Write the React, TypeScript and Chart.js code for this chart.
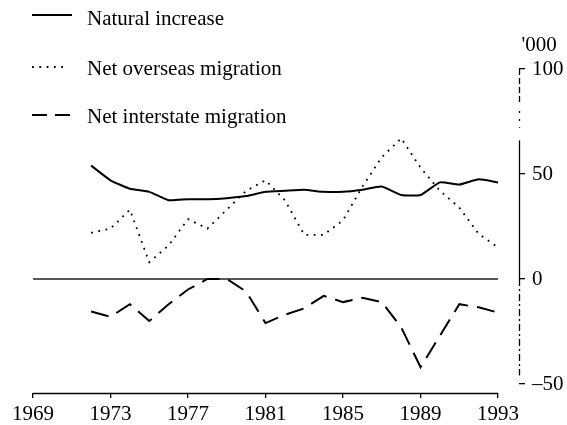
import React, { useEffect, useRef } from "react";
import { Chart, registerables } from "chart.js";

Chart.register(...registerables);

// ---- data ----
const years = [
  1972, 1973, 1974, 1975, 1976, 1977, 1978, 1979, 1980, 1981, 1982,
  1983, 1984, 1985, 1986, 1987, 1988, 1989, 1990, 1991, 1992, 1993,
];
const naturalIncrease = [
  54, 47, 43, 41.5, 37.5, 38, 38, 38.5, 39.5, 41.5, 42,
  42.5, 41.5, 41.5, 42.5, 44, 40, 40, 46, 45, 47.5, 46,
];
const netOverseasMigration = [
  22, 24, 33, 8, 16, 28.5, 24, 33, 42, 47, 37.5,
  21, 21, 28, 44, 58, 67, 53, 42, 34, 21.5, 15,
];
const netInterstateMigration = [
  -15.5, -18, -12, -20, -12, -5, 0, 0, -6, -21, -17,
  -14, -8, -11, -9, -11, -23, -42, -27, -12, -13.5, -16,
];
const seriesLabels = ["Natural increase", "Net overseas migration", "Net interstate migration"];
const xTickYears = [1969, 1973, 1977, 1981, 1985, 1989, 1993];
const yTickValues = [-50, 0, 50, 100];
const unitLabel = "'000";

const FONT = "'Liberation Serif', 'Times New Roman', serif";
const FONT_SIZE = 21;

const decorPlugin = {
  id: "decor",
  beforeDatasetsDraw(chart: any) {
    const { ctx, scales } = chart;
    const x = scales.x;
    const y = scales.y;
    // zero line
    ctx.save();
    ctx.strokeStyle = "#222";
    ctx.lineWidth = 1.6;
    ctx.beginPath();
    ctx.moveTo(x.getPixelForValue(xTickYears[0]), y.getPixelForValue(0));
    ctx.lineTo(x.getPixelForValue(xTickYears[xTickYears.length - 1]), y.getPixelForValue(0));
    ctx.stroke();
    ctx.restore();
  },
  afterDraw(chart: any) {
    const { ctx, scales, chartArea } = chart;
    const x = scales.x;
    const y = scales.y;
    ctx.save();
    ctx.strokeStyle = "#000";
    // x axis line
    ctx.lineWidth = 1.3;
    ctx.beginPath();
    ctx.moveTo(x.getPixelForValue(xTickYears[0]), chartArea.bottom + 0.5);
    ctx.lineTo(x.getPixelForValue(xTickYears[xTickYears.length - 1]), chartArea.bottom + 0.5);
    ctx.stroke();

    // y axis line (broken, as in the scan)
    const ax = Math.round(chartArea.right) + 0.5;
    const seg = (from: number, to: number, dash: number[]) => {
      ctx.setLineDash(dash);
      ctx.beginPath();
      ctx.moveTo(ax, y.getPixelForValue(from));
      ctx.lineTo(ax, y.getPixelForValue(to));
      ctx.stroke();
    };
    ctx.lineWidth = 1.3;
    seg(100, 84, [6, 3]);
    seg(80, 72, [2, 6]);
    seg(66, 0, []);
    seg(0, -46, [7, 3, 2, 3]);
    ctx.setLineDash([]);

    // unit label
    ctx.fillStyle = "#000";
    ctx.font = `${FONT_SIZE}px ${FONT}`;
    ctx.textAlign = "left";
    ctx.textBaseline = "alphabetic";
    ctx.fillText(unitLabel, ax + 2, 51);

    // legend
    const rows = [25, 75, 123];
    const lineY = [15, 67, 115];
    chart.data.datasets.forEach((ds: any, i: number) => {
      ctx.save();
      ctx.strokeStyle = "#000";
      ctx.lineWidth = ds.borderWidth;
      ctx.setLineDash(i === 2 ? [15, 8] : ds.borderDash || []);
      ctx.beginPath();
      ctx.moveTo(32, lineY[i]);
      ctx.lineTo(i === 1 ? 68 : 72, lineY[i]);
      ctx.stroke();
      ctx.restore();
      ctx.fillText(ds.label, 87, rows[i]);
    });
    ctx.restore();
  },
};

export default function App() {
  const ref = useRef<HTMLCanvasElement>(null);
  useEffect(() => {
    const canvas = ref.current;
    if (!canvas) return;
    const toPts = (vals: number[]) => years.map((yr, i) => ({ x: yr, y: vals[i] }));
    const chart = new Chart(canvas, {
      type: "line",
      data: {
        datasets: [
          {
            label: seriesLabels[0],
            data: toPts(naturalIncrease),
            borderColor: "#000",
            borderWidth: 2,
            pointRadius: 0,
            tension: 0.15,
          },
          {
            label: seriesLabels[1],
            data: toPts(netOverseasMigration),
            borderColor: "#000",
            borderWidth: 1.8,
            borderDash: [1.8, 5.5],
            pointRadius: 0,
          },
          {
            label: seriesLabels[2],
            data: toPts(netInterstateMigration),
            borderColor: "#000",
            borderWidth: 2,
            borderDash: [18, 9],
            pointRadius: 0,
          },
        ],
      },
      options: {
        responsive: false,
        animation: false,
        layout: { padding: { left: 33, top: 69, right: 0, bottom: 0 } },
        plugins: { legend: { display: false }, tooltip: { enabled: false } },
        scales: {
          x: {
            type: "linear",
            min: 1969,
            max: 1994.08,
            afterBuildTicks: (s: any) => {
              s.ticks = xTickYears.map((v) => ({ value: v }));
            },
            afterFit: (s: any) => {
              s.height = 32;
            },
            grid: { drawOnChartArea: false, drawTicks: true, tickLength: 5, color: "#000", lineWidth: 1.3 },
            border: { display: false },
            ticks: {
              color: "#000",
              font: { family: FONT, size: FONT_SIZE },
              padding: 4,
              maxRotation: 0,
              autoSkip: false,
              callback: (v: any) => String(v),
            },
          },
          y: {
            position: "right",
            min: -54.29,
            max: 100,
            afterBuildTicks: (s: any) => {
              s.ticks = yTickValues.map((v) => ({ value: v }));
            },
            afterFit: (s: any) => {
              s.width = 48;
            },
            grid: { drawOnChartArea: false, drawTicks: true, tickLength: 6, color: "#000", lineWidth: 1.3 },
            border: { display: false },
            ticks: {
              color: "#000",
              font: { family: FONT, size: FONT_SIZE },
              padding: 7,
              callback: (v: any) => (v < 0 ? "\u2013" + Math.abs(v) : String(v)),
            },
          },
        },
      },
      plugins: [decorPlugin],
    });
    return () => chart.destroy();
  }, []);

  return (
    <div style={{ position: "fixed", left: 0, top: 0, width: 567, height: 425, background: "#fff" }}>
      <canvas ref={ref} width={567} height={425} />
    </div>
  );
}
